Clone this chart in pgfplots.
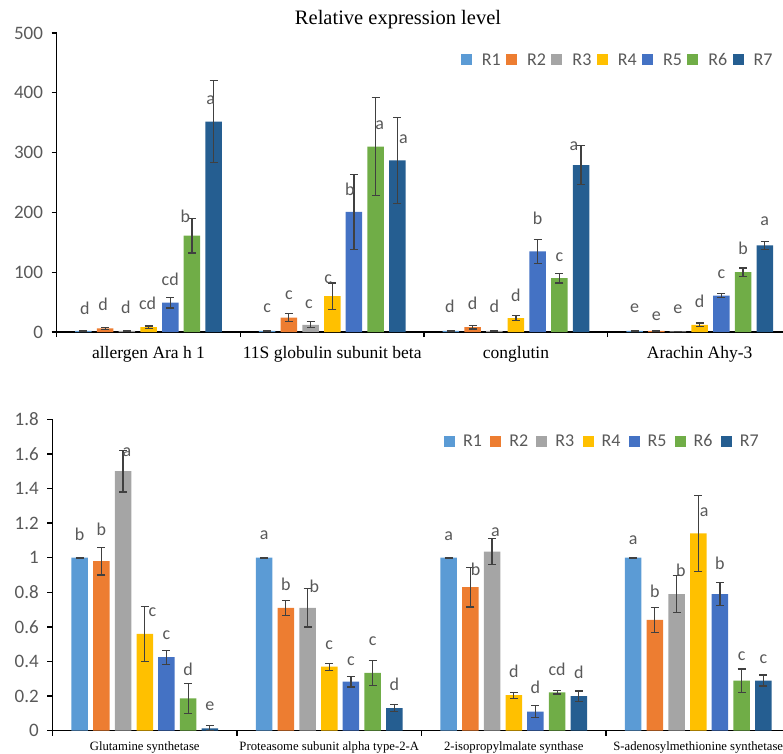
\documentclass[border=0pt]{standalone}
\usepackage{pgfplots}
\pgfplotsset{compat=1.18}
\usepackage{pgfplotstable}
\usepackage{fontspec}
\setmainfont{Liberation Serif}
\newfontfamily\carl{Carlito}
\definecolor{c1}{HTML}{5B9BD5}
\definecolor{c2}{HTML}{ED7D31}
\definecolor{c3}{HTML}{A5A5A5}
\definecolor{c4}{HTML}{FFC000}
\definecolor{c5}{HTML}{4472C4}
\definecolor{c6}{HTML}{70AD47}
\definecolor{c7}{HTML}{255E91}
\definecolor{labgray}{HTML}{595959}
\definecolor{errgray}{HTML}{404040}

% ---------- top chart data: x y err label dx dy ----------
\pgfplotstableread{
x y e l dx dy
0 2 0.5 d 1.5 16.8
1 2 0.5 c 0 18.3
2 2 0.5 d -1 18.5
3 2 0.5 e 0 18
}\tA
\pgfplotstableread{
x y e l dx dy
0 6 2 d -2 17.7
1 24 7 c 0 17.7
2 8 3 d 0 17.7
3 2 1 e 0 10
}\tB
\pgfplotstableread{
x y e l dx dy
0 2 1 d -1 17.3
1 12 5 c -1.5 16.7
2 2 1 d 0 18
3 1 0.5 e 0 17.7
}\tC
\pgfplotstableread{
x y e l dx dy
0 8 2 cd -1 17.3
1 60 22 c -4 12.3
2 23 4 d 0 17
3 12 3 d 0 17
}\tD
\pgfplotstableread{
x y e l dx dy
0 49 9 cd 0 17.3
1 201 63 b -4 16.7
2 135 20 b 0 26.7
3 61 3 c 0 17
}\tE
\pgfplotstableread{
x y e l dx dy
0 161 29 b -6.5 13.7
1 310 82 a 4 17
2 90 8 c 0 17
3 100 7 b 0 17.7
}\tF
\pgfplotstableread{
x y e l dx dy
0 352 68 a -3 17.3
1 287 72 a 6 17
2 279 33 a -7 15
3 145 6.5 a 0 20
}\tG

% ---------- bottom chart data ----------
\pgfplotstableread{
x y e l dx dy
0 1 0.003 b 0 17.7
1 1 0.003 a 0 18.3
2 1 0.003 a 0 17.7
3 1 0.003 a 0 13.7
}\bA
\pgfplotstableread{
x y e l dx dy
0 0.98 0.08 b 0 25.7
1 0.71 0.043 b 0 17.7
2 0.83 0.115 b 5.3 11.7
3 0.64 0.072 b 0 22
}\bB
\pgfplotstableread{
x y e l dx dy
0 1.5 0.12 a 4 14.3
1 0.71 0.11 b 6.7 15
2 1.035 0.075 a 3.3 15
3 0.79 0.108 b 4.3 17.3
}\bC
\pgfplotstableread{
x y e l dx dy
0 0.56 0.16 c 7.7 17.3
1 0.37 0.02 c 0 17.3
2 0.205 0.017 d 0 17.7
3 1.14 0.22 a 6 16.7
}\bD
\pgfplotstableread{
x y e l dx dy
0 0.425 0.04 c 0 17.3
1 0.283 0.03 c 0 16.7
2 0.11 0.035 d 0 17.7
3 0.79 0.067 b 0 25
}\bE
\pgfplotstableread{
x y e l dx dy
0 0.187 0.087 d 0 23
1 0.335 0.072 c 0 27.7
2 0.222 0.01 cd 0 17.3
3 0.29 0.067 c 0 20
}\bF
\pgfplotstableread{
x y e l dx dy
0 0.013 0.015 e 0 18
1 0.13 0.02 d 0 17.3
2 0.2 0.03 d 0 17.7
3 0.29 0.032 c 0 17.3
}\bG

\pgfplotsset{
  common/.style={
    scale only axis,
    xmin=-0.5, xmax=3.5, ymin=0,
    ybar=5.2pt, bar width=16.5pt,
    axis x line*=bottom, axis y line*=left,
    axis line style={line width=1.3pt, black},
    tick style={line width=1.3pt, black},
    tick align=outside, major tick length=5pt,
    xtick={-0.5,0.5,1.5,2.5,3.5}, xticklabels={},
    /pgf/number format/assume math mode=true,
    /pgf/number format/fixed,
    yticklabel style={font=\carl\fontsize{19}{21}\selectfont, text=labgray, anchor=east, inner sep=0pt, xshift=-8.5pt},
    nodes near coords,
    point meta=explicit symbolic,
    visualization depends on={\thisrow{dx} \as \dx},
    visualization depends on={\thisrow{dy} \as \dy},
    every node near coord/.append style={font=\carl\fontsize{18}{20}\selectfont, text=labgray, anchor=base, inner sep=0pt, xshift=\dx pt, yshift=\dy pt},
    error bars/y dir=both, error bars/y explicit,
    error bars/error bar style={line width=1.2pt, errgray},
    error bars/error mark options={rotate=90, mark size=4pt, line width=1.2pt, errgray},
    legend columns=-1,
    legend image code/.code={\draw[#1, draw=none] (0pt,-5.5pt) rectangle (11pt,5.5pt);},
  },
}

\begin{document}
\begin{tikzpicture}
\useasboundingbox (0pt,0pt) rectangle (783pt,753pt);
% ===== top =====
\begin{axis}[common,
  at={(56.7pt,421pt)}, anchor=south west,
  width=734.8pt, height=299pt, ymax=500,
  ytick={0,100,200,300,400,500},
  extra x ticks={0,1,2,3},
  extra x tick labels={allergen Ara h 1,11S globulin subunit beta,conglutin,Arachin Ahy-3},
  extra x tick style={major tick length=0pt, tick label style={font=\fontsize{17.5}{20}\selectfont, anchor=base, yshift=-26.6pt}},
  title={Relative expression level},
  title style={font=\fontsize{20.5}{23}\selectfont, at={(0.4645,1.008)}, anchor=base},
  legend style={at={(0.5498,0.9097)}, anchor=west, draw=none, fill=none, inner sep=0pt,
    font=\carl\fontsize{18}{20}\selectfont, text=labgray, nodes={inner sep=0pt},
    /tikz/every odd column/.append style={column sep=10pt},
    /tikz/every even column/.append style={column sep=5.4pt}},
]
\addplot[fill=c1, draw=none] table[x=x, y=y, y error=e, meta=l]{\tA};
\addplot[fill=c2, draw=none] table[x=x, y=y, y error=e, meta=l]{\tB};
\addplot[fill=c3, draw=none] table[x=x, y=y, y error=e, meta=l]{\tC};
\addplot[fill=c4, draw=none] table[x=x, y=y, y error=e, meta=l]{\tD};
\addplot[fill=c5, draw=none] table[x=x, y=y, y error=e, meta=l]{\tE};
\addplot[fill=c6, draw=none] table[x=x, y=y, y error=e, meta=l]{\tF};
\addplot[fill=c7, draw=none] table[x=x, y=y, y error=e, meta=l]{\tG};
\legend{R1,R2,R3,R4,R5,R6,R7}
\end{axis}
% ===== bottom =====
\begin{axis}[common,
  at={(52.5pt,22.3pt)}, anchor=south west,
  width=738pt, height=311.4pt, ymax=1.8,
  ytick={0,0.2,0.4,0.6,0.8,1,1.2,1.4,1.6,1.8},
  extra x ticks={0,1,2,3},
  extra x tick labels={Glutamine synthetase,Proteasome subunit alpha type-2-A,2-isopropylmalate synthase,S-adenosylmethionine synthetase},
  extra x tick style={major tick length=0pt, tick label style={font=\fontsize{12.7}{14}\selectfont, anchor=base, yshift=-20pt}},
  legend style={at={(0.5305,0.930)}, anchor=west, draw=none, fill=none, inner sep=0pt,
    font=\carl\fontsize{18}{20}\selectfont, text=labgray, nodes={inner sep=0pt},
    /tikz/every odd column/.append style={column sep=8pt},
    /tikz/every even column/.append style={column sep=8.2pt}},
]
\addplot[fill=c1, draw=none] table[x=x, y=y, y error=e, meta=l]{\bA};
\addplot[fill=c2, draw=none] table[x=x, y=y, y error=e, meta=l]{\bB};
\addplot[fill=c3, draw=none] table[x=x, y=y, y error=e, meta=l]{\bC};
\addplot[fill=c4, draw=none] table[x=x, y=y, y error=e, meta=l]{\bD};
\addplot[fill=c5, draw=none] table[x=x, y=y, y error=e, meta=l]{\bE};
\addplot[fill=c6, draw=none] table[x=x, y=y, y error=e, meta=l]{\bF};
\addplot[fill=c7, draw=none] table[x=x, y=y, y error=e, meta=l]{\bG};
\legend{R1,R2,R3,R4,R5,R6,R7}
\end{axis}
\end{tikzpicture}
\end{document}
